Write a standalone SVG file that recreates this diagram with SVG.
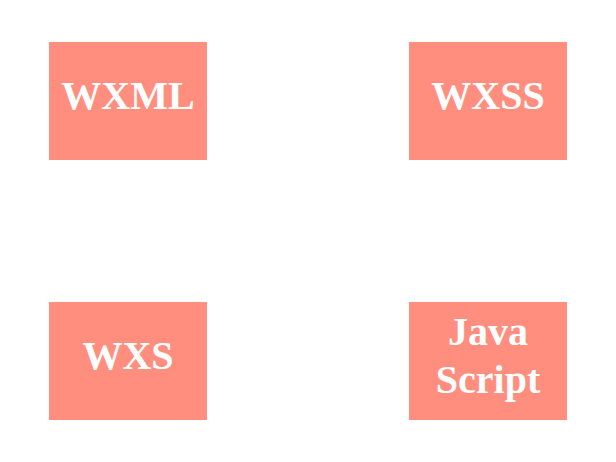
<svg xmlns="http://www.w3.org/2000/svg" width="616" height="462" viewBox="0 0 616 462">
<style>
.box{fill:#FF8E7F}
.lbl{font-family:"Liberation Serif","Times New Roman",serif;font-weight:bold;font-size:40px;fill:#FFFFFF;text-anchor:middle}
</style>
<rect width="616" height="462" fill="#FFFFFF"/>
<g id="connectors"></g>
<g id="wxml"><rect class="box" x="49" y="42" width="158" height="118"/><text class="lbl" x="128" y="109">WXML</text></g>
<g id="wxss"><rect class="box" x="409" y="42" width="158" height="118"/><text class="lbl" x="488" y="109">WXSS</text></g>
<g id="wxs"><rect class="box" x="49" y="302" width="158" height="118"/><text class="lbl" x="128" y="369">WXS</text></g>
<g id="javascript"><rect class="box" x="409" y="302" width="158" height="118"/><text class="lbl" x="488" y="345">Java</text><text class="lbl" x="488" y="393">Script</text></g>
</svg>
